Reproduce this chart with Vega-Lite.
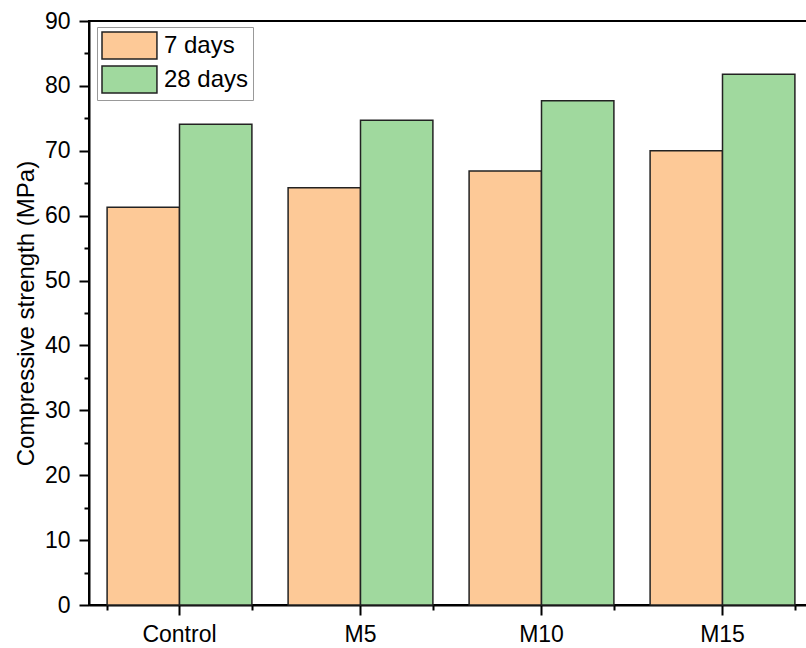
{
  "$schema": "https://vega.github.io/schema/vega-lite/v6.json",
  "width": 724,
  "height": 584,
  "autosize": {"type": "none"},
  "padding": {"left": 89, "top": 21, "right": 0, "bottom": 43},
  "config": {
    "font": "Liberation Sans",
    "view": {"stroke": "black", "strokeWidth": 2},
    "axis": {"domainColor": "black", "domainWidth": 2, "tickColor": "black", "tickWidth": 2, "labelColor": "black", "titleColor": "black", "grid": false}
  },
  "data": {
    "values": [
      {"mix": "Control", "age": "7 days", "strength": 61.3},
      {"mix": "Control", "age": "28 days", "strength": 74.1},
      {"mix": "M5", "age": "7 days", "strength": 64.3},
      {"mix": "M5", "age": "28 days", "strength": 74.7},
      {"mix": "M10", "age": "7 days", "strength": 66.9},
      {"mix": "M10", "age": "28 days", "strength": 77.7},
      {"mix": "M15", "age": "7 days", "strength": 70.0},
      {"mix": "M15", "age": "28 days", "strength": 81.8}
    ]
  },
  "resolve": {"axis": {"x": "independent", "y": "independent"}},
  "layer": [
    {
      "mark": {"type": "bar", "stroke": "#222222", "strokeWidth": 1.5},
      "encoding": {
        "x": {
          "field": "mix", "type": "nominal", "sort": ["Control", "M5", "M10", "M15"],
          "scale": {"paddingInner": 0.2, "paddingOuter": 0.1},
          "axis": {"title": null, "orient": "bottom", "labelAngle": 0, "labelFontSize": 23, "tickSize": 10, "labelPadding": 8}
        },
        "xOffset": {"field": "age", "type": "nominal", "sort": ["7 days", "28 days"]},
        "y": {
          "field": "strength", "type": "quantitative",
          "scale": {"domain": [0, 90], "nice": false},
          "axis": {"title": "Compressive strength (MPa)", "orient": "left", "values": [0, 10, 20, 30, 40, 50, 60, 70, 80, 90], "labelFontSize": 23, "tickSize": 10, "labelPadding": 9, "titleFontSize": 24, "titleFontWeight": "normal", "titlePadding": 6}
        },
        "color": {
          "field": "age", "type": "nominal",
          "scale": {"domain": ["7 days", "28 days"], "range": ["#FDC997", "#A0D99E"]},
          "legend": {
            "title": null, "orient": "none", "legendX": 8, "legendY": 6,
            "symbolType": "M-1,-1H3.07V1H-1Z", "symbolSize": 729,
            "symbolStrokeColor": "#222222", "symbolStrokeWidth": 1.5,
            "labelFontSize": 24, "labelColor": "black", "labelOffset": 34,
            "strokeColor": "#999999", "padding": 4, "rowPadding": 1, "fillColor": "white"
          }
        }
      }
    },
    {
      "mark": {"type": "bar", "opacity": 0},
      "encoding": {
        "x": {
          "field": "mix", "type": "nominal", "sort": ["Control", "M5", "M10", "M15"],
          "axis": {"title": null, "orient": "bottom", "labels": false, "domain": false, "tickBand": "extent", "tickSize": 5}
        },
        "y": {
          "field": "strength", "type": "quantitative",
          "axis": {"title": null, "orient": "left", "labels": false, "domain": false, "values": [5, 15, 25, 35, 45, 55, 65, 75, 85], "tickSize": 5}
        }
      }
    }
  ]
}
